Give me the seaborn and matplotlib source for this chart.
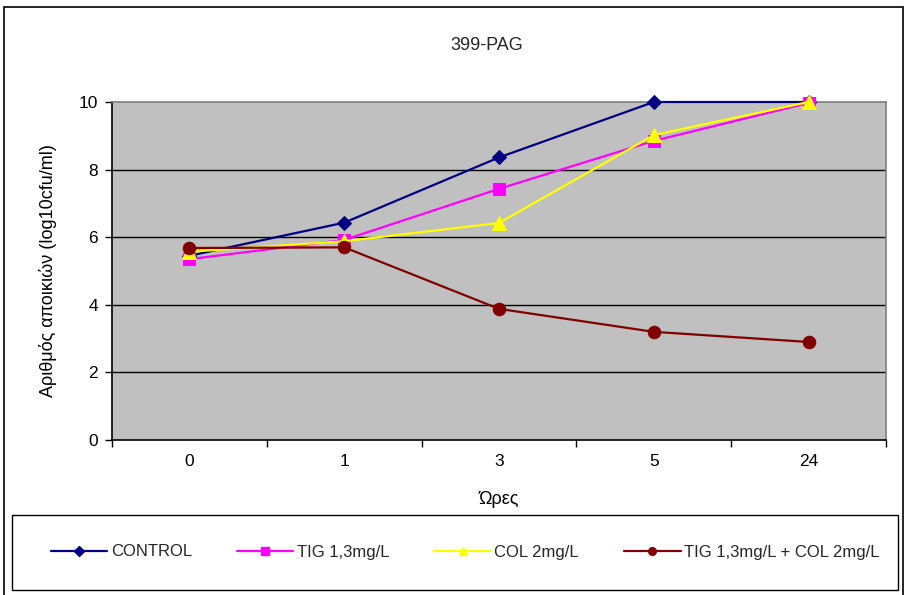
import matplotlib
matplotlib.use("Agg")
import matplotlib.pyplot as plt
from matplotlib.patches import Rectangle
from matplotlib.lines import Line2D
import seaborn as sns
import pandas as pd

hours = ["0", "1", "3", "5", "24"]
control = [5.45, 6.43, 8.36, 10.0, 10.0]
tig = [5.35, 5.92, 7.43, 8.85, 9.97]
col = [5.57, 5.88, 6.42, 9.02, 10.0]
tig_col = [5.68, 5.70, 3.88, 3.20, 2.90]

series_names = ["CONTROL", "TIG 1,3mg/L", "COL 2mg/L", "TIG 1,3mg/L + COL 2mg/L"]
series_values = [control, tig, col, tig_col]
colors = ["#000080", "#FF00FF", "#FFFF00", "#800000"]
markers = ["D", "s", "^", "o"]
msizes = [7.5, 8.5, 9.5, 9]

sns.set_theme(style="white")
plt.rcParams["font.family"] = ["Liberation Sans", "DejaVu Sans"]

fig = plt.figure(figsize=(9.07, 5.95), dpi=100)
ax = fig.add_axes([112 / 907, 1 - 440 / 595, (886 - 112) / 907, (440 - 102) / 595])
ax.set_facecolor("#C0C0C0")

rows = []
for name, vals in zip(series_names, series_values):
    for i, v in enumerate(vals):
        rows.append({"pos": i, "value": v, "series": name})
df = pd.DataFrame(rows)

for name, c, m, ms in zip(series_names, colors, markers, msizes):
    sub = df[df["series"] == name]
    sns.lineplot(data=sub, x="pos", y="value", ax=ax, color=c, marker=m,
                 markersize=ms, markeredgecolor=c, linewidth=1.6, legend=False,
                 clip_on=False, zorder=3)

ax.set_xlim(-0.5, 4.5)
ax.set_ylim(0, 10)
ax.set_yticks([0, 2, 4, 6, 8, 10])
ax.set_xticks(range(len(hours)))
ax.set_xticklabels(hours)
ax.set_xticks([i - 0.5 for i in range(len(hours) + 1)], minor=True)
ax.tick_params(axis="x", which="major", length=0, pad=10, labelsize=12.5, colors="black")
ax.tick_params(axis="x", which="minor", length=5, width=1, color="black", bottom=True)
ax.tick_params(axis="y", which="major", length=5, width=1, color="black", left=True,
               labelsize=12.5, pad=5, colors="black")

for y in [2, 4, 6, 8]:
    ax.axhline(y, color="black", linewidth=1, zorder=1)

for side in ["left", "bottom"]:
    ax.spines[side].set_color("black")
    ax.spines[side].set_linewidth(1.2)
for side in ["top", "right"]:
    ax.spines[side].set_color("#808080")
    ax.spines[side].set_linewidth(1.2)

ax.set_xlabel("Ώρες", fontsize=13, labelpad=16, color="black")
ax.set_ylabel("Αριθμός αποικιών (log10cfu/ml)", fontsize=13, labelpad=16, color="black")
fig.text(487 / 907, 1 - 45 / 595, "399-PAG", ha="center", va="center", fontsize=13)

handles = [Line2D([0], [0], color=c, marker=m, markersize=5.5, markeredgecolor=c,
                  linewidth=1.6) for c, m in zip(colors, markers)]
leg = fig.legend(handles, series_names, loc="center",
                 bbox_to_anchor=(465 / 907, 1 - 552 / 595),
                 ncol=4, frameon=False, fontsize=12, handlelength=3.4,
                 handletextpad=0.2, columnspacing=2.7)

fig.patches.append(Rectangle((12 / 907, 1 - 590 / 595), (898 - 12) / 907, 75 / 595,
                             transform=fig.transFigure, fill=False, edgecolor="black",
                             linewidth=1))
fig.patches.append(Rectangle((4 / 907, -0.01), (903 - 4) / 907, 1 - 7 / 595 + 0.01,
                             transform=fig.transFigure, fill=False, edgecolor="black",
                             linewidth=1.2))

fig.savefig("out.png", dpi=100)
